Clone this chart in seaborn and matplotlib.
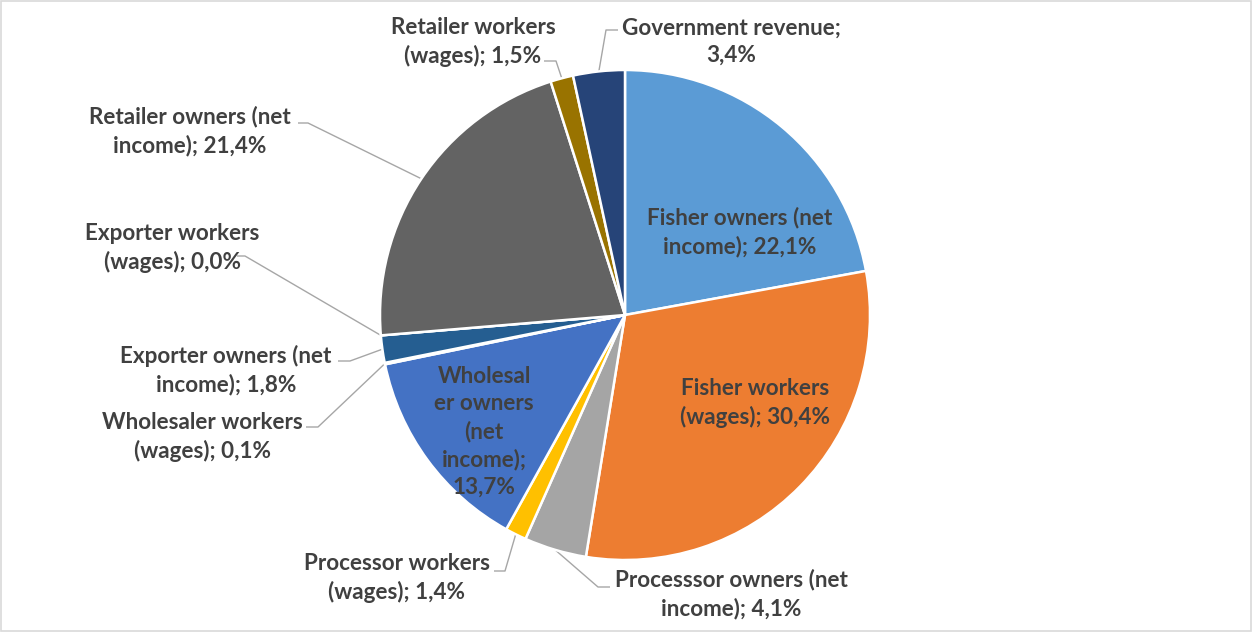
import matplotlib
matplotlib.use("Agg")
import matplotlib.pyplot as plt
import numpy as np
import seaborn as sns

# Value chain distribution (share of total value, %)
categories = [
    "Fisher owners (net\nincome)",
    "Fisher workers\n(wages)",
    "Processsor owners (net\nincome)",
    "Processor workers\n(wages)",
    "Wholesal\ner owners\n(net\nincome)",
    "Wholesaler workers\n(wages)",
    "Exporter owners (net\nincome)",
    "Exporter workers\n(wages)",
    "Retailer owners (net\nincome)",
    "Retailer workers\n(wages)",
    "Government revenue",
]
shares = [22.1, 30.4, 4.1, 1.4, 13.7, 0.1, 1.8, 0.0, 21.4, 1.5, 3.4]
value_sep = ["; ", "; ", "; ", "; ", ";\n", "; ", "; ", "; ", "; ", "; ", ";\n"]
palette = ["#5B9BD5", "#ED7D31", "#A5A5A5", "#FFC000", "#4472C4", "#70AD47",
           "#255E91", "#9E480E", "#636363", "#997300", "#264478"]

sns.set_theme(style="white")
plt.rcParams["font.family"] = ["Lato", "DejaVu Sans"]

W, H = 1252, 632
CX, CY, R = 625, 315, 245  # pie centre and radius in pixels


def px(x, y):
    """Pixel position -> data units of the pie axes."""
    return (x - CX) / R, (CY - y) / R


fig = plt.figure(figsize=(W / 100, H / 100), dpi=100)
ax = fig.add_axes([0, 0, 1, 1])
wedges, _ = ax.pie(shares, colors=palette, startangle=90, counterclock=False,
                   radius=1.0, wedgeprops=dict(edgecolor="white", linewidth=1.8))
ax.set_xlim(-CX / R, (W - CX) / R)
ax.set_ylim(-(H - CY) / R, CY / R)
ax.set_aspect("auto")
ax.axis("off")

# label centres (pixels); None elbow = label inside its wedge
label_pos = [(740, 232), (755, 403), (731, 594), (397, 578), (484, 432),
             (202, 437), (226, 370), (172, 248), (190, 131), (473, 42), (731, 42)]
elbows = [None, None,
          ((598, 587), (610, 587)),
          ((505, 571), (494, 571)),
          None,
          ((318, 427), (306, 427)),
          ((350, 361), (338, 361)),
          ((245, 256), (237, 256)),
          ((308, 123), (298, 123)),
          ((556, 61), (544, 61)),
          ((606, 30), (618, 30))]

txt_color = "#404040"
for i, w in enumerate(wedges):
    pct = f"{shares[i]:.1f}%".replace(".", ",")
    text = categories[i] + value_sep[i] + pct
    tx, ty = px(*label_pos[i])
    ax.text(tx, ty, text, ha="center", va="center", fontsize=16.2,
            fontweight="bold", color=txt_color, linespacing=1.36)
    if elbows[i] is not None:
        ang = np.deg2rad((w.theta1 + w.theta2) / 2)
        ex, ey = np.cos(ang), np.sin(ang)
        (bx, by), (tx2, ty2) = px(*elbows[i][0]), px(*elbows[i][1])
        ax.plot([ex, bx, tx2], [ey, by, ty2], color="#A6A6A6", lw=1.0,
                solid_capstyle="butt", zorder=0.5)

fig.patches.append(plt.Rectangle((0.0005, 0.001), 0.999, 0.998, transform=fig.transFigure,
                                 fill=False, edgecolor="#D9D9D9", linewidth=1.2))
fig.savefig("out.png", dpi=100, facecolor="white")
